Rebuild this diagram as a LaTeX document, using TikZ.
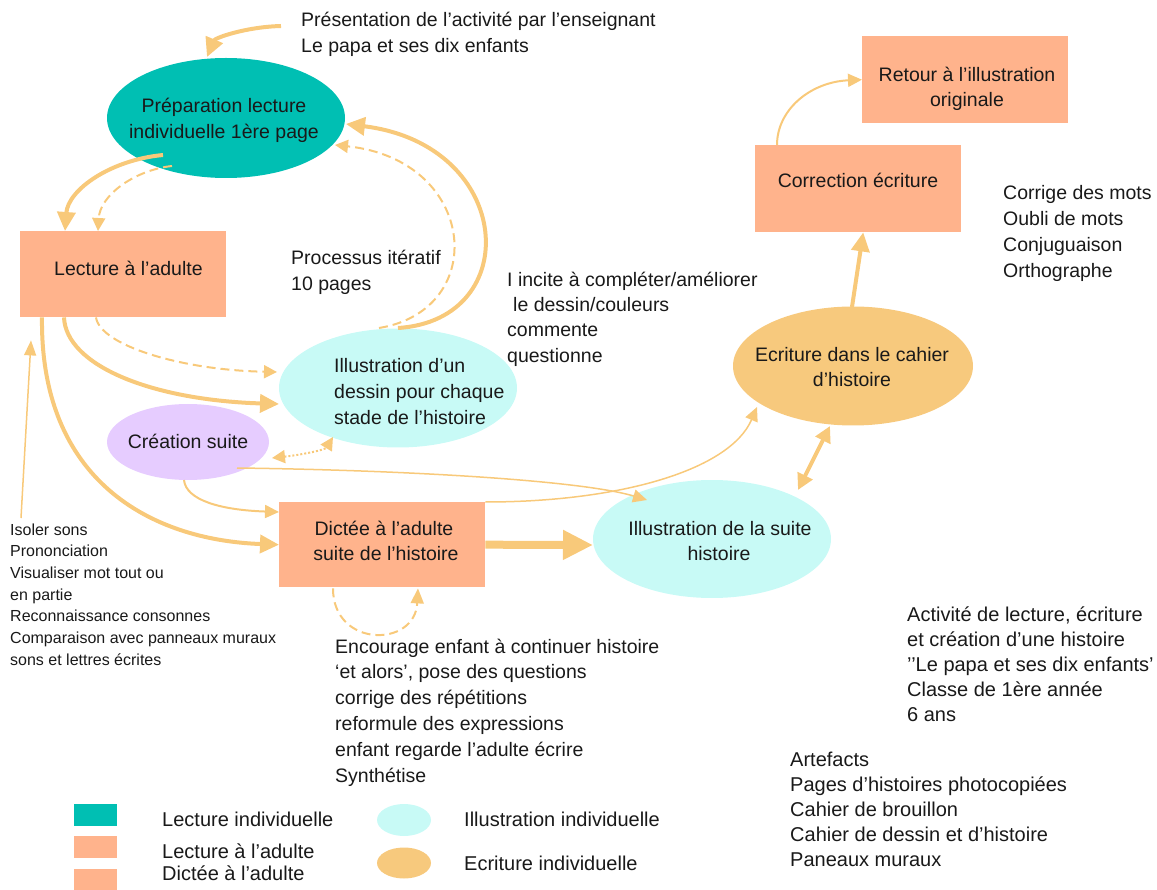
\documentclass[tikz,border=0pt]{standalone}
\usepackage{fontspec}
\setmainfont{Liberation Sans}
\usetikzlibrary{arrows.meta,shapes.geometric,calc}
\definecolor{arr}{RGB}{248,201,122}
\definecolor{tealc}{RGB}{0,191,179}
\definecolor{salmon}{RGB}{255,179,140}
\definecolor{cyanc}{RGB}{200,250,246}
\definecolor{lav}{RGB}{230,204,255}
\definecolor{orangec}{RGB}{247,201,125}
\definecolor{txtc}{RGB}{25,25,25}
\begin{document}
\begin{tikzpicture}[x=1pt,y=-1pt,
  ell/.style={ellipse, inner sep=0pt, draw=none},
  boxn/.style={rectangle, inner sep=0pt, draw=none, fill=salmon, anchor=north west, minimum width=206pt, minimum height=86pt},
  t/.style={inner sep=0pt, text=txtc, font=\fontsize{19.5}{26}\selectfont},
  tl/.style={t, anchor=base west},
  tc/.style={t, anchor=base},
  sm/.style={inner sep=0pt, text=txtc, font=\fontsize{16}{20}\selectfont, anchor=base west},
  rt/.style={inner sep=0pt, text=txtc, font=\fontsize{20}{25}\selectfont, anchor=base west},
  thickar/.style={draw=arr, line width=4pt, -{Triangle[length=19pt,width=18pt]}},
  dashar/.style={draw=arr, line width=2pt, dash pattern=on 9pt off 5pt, -{Triangle[length=13pt,width=13pt]}},
  thinar/.style={draw=arr, line width=2pt, -{Triangle[length=14pt,width=13pt]}},
  hairar/.style={draw=arr, line width=1.5pt, -{Triangle[length=14pt,width=13pt]}}
]
\useasboundingbox (0,0) rectangle (1157,890);

% ---------- shapes ----------
\node[ell, fill=tealc, minimum width=238pt, minimum height=120pt] (prep) at (226,118) {};
\node[boxn] (lect) at (20,231) {};
\node[ell, fill=cyanc, minimum width=238pt, minimum height=119pt] (illus) at (398,388) {};
\node[ell, fill=lav, minimum width=162pt, minimum height=76pt] (creat) at (188,442) {};
\node[boxn, minimum height=85pt] (dict) at (279,502) {};
\node[ell, fill=cyanc, minimum width=238pt, minimum height=118pt] (suite) at (712,539) {};
\node[ell, fill=orangec, minimum width=240pt, minimum height=119pt] (ecrit) at (853,366) {};
\node[boxn, minimum height=87pt] (corr) at (755,145) {};
\node[boxn, minimum height=87pt] (retour) at (862,36) {};

% ---------- texts in shapes ----------
\node[tc] (prept1) at (224,113) {Préparation lecture};
\node[tc] (prept2) at (224,139) {individuelle 1ère page};
\node[tl] (lectt) at (54,276) {Lecture à l’adulte};
\node[tl] (illust1) at (334,373) {Illustration d’un};
\node[tl] (illust2) at (334,399) {dessin pour chaque};
\node[tl] (illust3) at (334,425) {stade de l’histoire};
\node[tc] (creatt) at (188,449) {Création suite};
\node[tc] (dictt1) at (384,535) {Dictée à l’adulte};
\node[tc] (dictt2) at (386,560) {suite de l’histoire};
\node[tc] (suitet1) at (720,535) {Illustration de la suite};
\node[tc] (suitet2) at (719,560) {histoire};
\node[tc] (ecritt1) at (852,362) {Ecriture dans le cahier};
\node[tc] (ecritt2) at (852,387) {d’histoire};
\node[tc] (corrt) at (858,188) {Correction écriture};
\node[tc] (retourt1) at (967,82) {Retour à l’illustration};
\node[tc] (retourt2) at (967,107) {originale};

% ---------- free texts ----------
\node[tl] (pres1) at (301,27) {Présentation de l’activité par l’enseignant};
\node[tl] (pres2) at (301,53) {Le papa et ses dix enfants};
\node[tl] (proc1) at (291,265) {Processus itératif};
\node[tl] (proc2) at (291,291) {10 pages};
\node[tl] (inc1) at (507,287) {I incite à compléter/améliorer};
\node[tl] (inc2) at (513,312) {le dessin/couleurs};
\node[tl] (inc3) at (507,337) {commente};
\node[tl] (inc4) at (507,363) {questionne};
\foreach \s [count=\i] in {Corrige des mots, Oubli de mots, Conjuguaison, Orthographe}
  \node[tl] (cor\i) at (1003,{200+25.8*(\i-1)}) {\s};
\foreach \s [count=\i] in {Isoler sons, Prononciation, Visualiser mot tout ou, en partie, Reconnaissance consonnes, Comparaison avec panneaux muraux, sons et lettres écrites}
  \node[sm] (iso\i) at (10,{535+21.7*(\i-1)}) {\s};
\foreach \s [count=\i] in {Encourage enfant à continuer histoire, {‘et alors’, pose des questions}, corrige des répétitions, reformule des expressions, enfant regarde l’adulte écrire, Synthétise}
  \node[tl] (enc\i) at (335,{653+25.8*(\i-1)}) {\s};
\foreach \s [count=\i] in {{Activité de lecture, écriture}, et création d’une histoire, ’’Le papa et ses dix enfants’, Classe de 1ère année, 6 ans}
  \node[rt] (act\i) at (907,{621+25*(\i-1)}) {\s};
\foreach \s [count=\i] in {Artefacts, Pages d’histoires photocopiées, Cahier de brouillon, Cahier de dessin et d’histoire, Paneaux muraux}
  \node[rt] (art\i) at (790,{766+25*(\i-1)}) {\s};

% ---------- legend ----------
\node[boxn, fill=tealc, minimum width=43pt, minimum height=22pt] (lg1) at (74,804) {};
\node[boxn, minimum width=43pt, minimum height=22pt] (lg2) at (74,836) {};
\node[boxn, minimum width=43pt, minimum height=22pt] (lg3) at (74,869) {};
\node[ell, fill=cyanc, minimum width=54pt, minimum height=32pt] (lg4) at (404,820) {};
\node[ell, fill=orangec, minimum width=54pt, minimum height=31pt] (lg5) at (404,863) {};
\node[rt] (lgt1) at (162,826) {Lecture individuelle};
\node[rt] (lgt2) at (162,858) {Lecture à l’adulte};
\node[rt] (lgt3) at (162,880) {Dictée à l’adulte};
\node[rt] (lgt4) at (464,826) {Illustration individuelle};
\node[rt] (lgt5) at (464,870) {Ecriture individuelle};

% ---------- connectors ----------
\coordinate (presarrow) at (281,26);
\coordinate (isoarrow) at (21,518);

\draw[thickar] (presarrow) .. controls (245,27) and (215,38) .. ($(prep)+(-19,-61)$);
\draw[thickar] ($(prep)+(-63,37)$) .. controls (110,160) and (68,190) .. ($(lect.north west)+(45,0)$);
\draw[dashar] ($(prep)+(-54,48)$) .. controls (135,170) and (100,195) .. ($(lect.north west)+(78,0)$);
\draw[thickar] ($(illus)+(0,-60)$) .. controls (525,320) and (515,145) .. ($(prep)+(120,6)$);
\draw[dashar] ($(illus)+(-19,-60)$) .. controls (490,310) and (478,160) .. ($(prep)+(109,27)$);

\draw[dashar] ($(lect.south west)+(76,0)$) .. controls (100,345) and (180,370) .. ($(illus)+(-121,-16)$);
\draw[thickar] ($(lect.south west)+(44,0)$) .. controls (66,365) and (150,400) .. ($(illus)+(-119,16)$);
\draw[thickar] ($(lect.south west)+(22,0)$) .. controls (40,480) and (150,540) .. (dict.west);
\draw[draw=arr, line width=1.5pt, -{Triangle[length=15pt,width=12pt]}] (isoarrow) -- ($(lect.south west)+(11,23)$);

\draw[thinar] ($(creat)+(-4,38)$) .. controls (186,500) and (220,510) .. ($(dict.north west)+(0,10)$);
\draw[draw=arr, line width=2pt, dash pattern=on 2pt off 2pt, {Triangle[length=13pt,width=13pt]}-{Triangle[length=13pt,width=13pt]}] ($(creat)+(84,16)$) .. controls (300,455) and (325,450) .. ($(illus)+(-65,49)$);
\draw[hairar] ($(creat)+(49,26)$) .. controls (400,470) and (580,480) .. ($(suite)+(-65,-39)$);
\draw[hairar] (dict.north east) .. controls (620,502) and (730,470) .. ($(ecrit)+(-96,41)$);
\draw[draw=arr, line width=8pt, -{Triangle[length=30pt,width=28pt]}] (dict.east) -- ($(suite)+(-119,6)$);
\draw[draw=arr, line width=2pt, dash pattern=on 9pt off 5pt, -{Triangle[length=15pt,width=13pt]}] ($(dict.south west)+(54,1)$) .. controls (333,648) and (415,648) .. ($(dict.south west)+(139,1)$);

\draw[draw=arr, line width=4pt, {Triangle[length=16pt,width=16pt]}-{Triangle[length=16pt,width=16pt]}] ($(ecrit)+(-23,60)$) -- ($(suite)+(86,-49)$);
\draw[thickar] ($(ecrit)+(-1,-59)$) -- ($(corr.south)+(5,0)$);
\draw[thinar] ($(corr.north west)+(22,0)$) .. controls (777,110) and (810,82) .. (retour.west);
\end{tikzpicture}
\end{document}
